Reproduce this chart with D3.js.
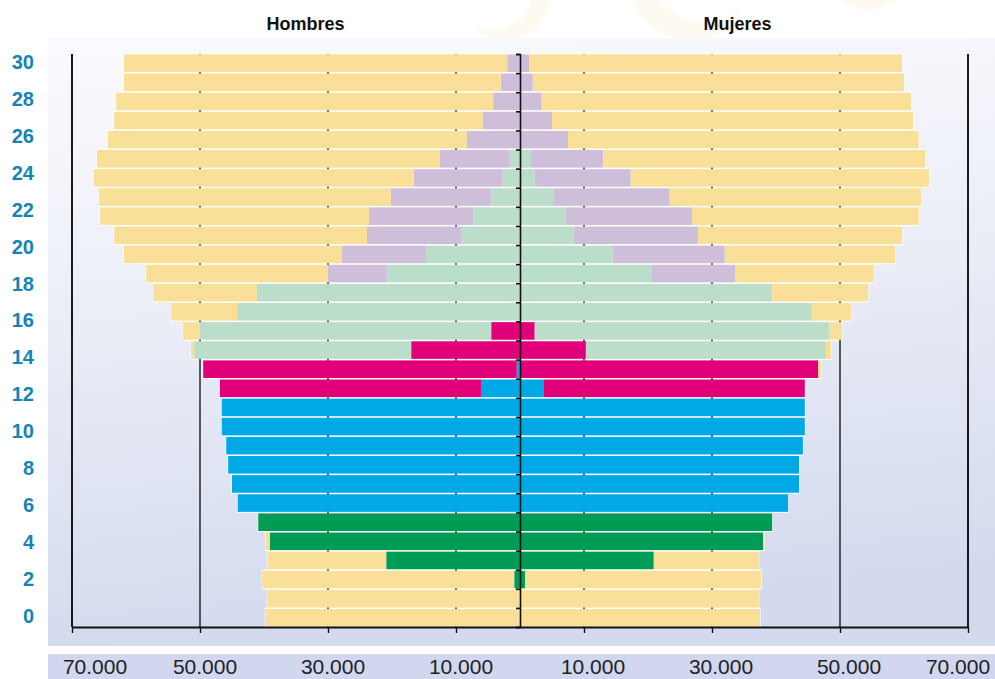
<!DOCTYPE html>
<html>
<head>
<meta charset="utf-8">
<script src="https://cdn.jsdelivr.net/npm/d3@7"></script>
<style>
  html, body { margin: 0; padding: 0; background: #ffffff; }
  svg { display: block; font-family: "Liberation Sans", Arial, sans-serif; }
</style>
</head>
<body>
<svg id="chart" width="995" height="679"></svg>
<script>
// ---------- DATA (persons) ----------
const ages = d3.range(0, 30);                       // one bar per age, bottom to top
const ageTickLabels = [0, 2, 4, 6, 8, 10, 12, 14, 16, 18, 20, 22, 24, 26, 28, 30];
const xTickValues = [70000, 50000, 30000, 10000];
const levels = ["infantil", "primaria", "eso", "post", "univ", "rest"];
const levelColors = ["#009B55", "#00A8E6", "#E2007A", "#BBDECA", "#CFBEDA", "#F9DF97"];
const sexTitles = ["Hombres", "Mujeres"];

// Hombres
const menTotal    = [39800,39500,40300,39500,39700,40900,44100,45000,45600,45900,46600,46600,46900,49500,51400,52700,54500,57300,58400,61900,63400,65600,65800,66600,66100,64400,63400,63100,61900,61900];
const menInfantil = [0,0,900,20900,39100,40900,0,0,0,0,0,0,0,0,0,0,0,0,0,0,0,0,0,0,0,0,0,0,0,0];
const menPrimaria = [0,0,0,0,0,0,44100,45000,45600,45900,46600,46600,6100,500,0,0,0,0,0,0,0,0,0,0,0,0,0,0,0,0];
const menEso      = [0,0,0,0,0,0,0,0,0,0,0,0,40800,49000,17000,4500,0,0,0,0,0,0,0,0,0,0,0,0,0,0];
const menPost     = [0,0,0,0,0,0,0,0,0,0,0,0,0,0,33900,45500,44200,41100,20800,14700,9100,7300,4500,2700,1600,0,0,0,0,0];
const menUniv     = [0,0,0,0,0,0,0,0,0,0,0,0,0,0,0,0,0,0,9200,13100,14800,16300,15700,13900,10900,8300,5800,4200,3000,2000];

// Mujeres
const womenTotal    = [37500,37300,37700,37300,38200,39400,41900,43600,43600,44200,44500,44500,44500,47000,48600,50300,51700,54400,55300,58600,59700,62300,62700,63900,63300,62300,61400,61100,60000,59700];
const womenInfantil = [0,0,800,20900,38000,39400,0,0,0,0,0,0,0,0,0,0,0,0,0,0,0,0,0,0,0,0,0,0,0,0];
const womenPrimaria = [0,0,0,0,0,0,41900,43600,43600,44200,44500,44500,3750,0,0,0,0,0,0,0,0,0,0,0,0,0,0,0,0,0];
const womenEso      = [0,0,0,0,0,0,0,0,0,0,0,0,40750,46600,10300,2300,0,0,0,0,0,0,0,0,0,0,0,0,0,0];
const womenPost     = [0,0,0,0,0,0,0,0,0,0,0,0,0,0,37500,46000,45600,39400,20500,14500,8400,7200,5200,2300,1700,0,0,0,0,0];
const womenUniv     = [0,0,0,0,0,0,0,0,0,0,0,0,0,0,0,0,0,0,13100,17500,19400,19700,18200,15000,11300,7500,5000,3400,2000,1400];

// ---------- LAYOUT ----------
const W = 995, H = 679;
const cx = 520, halfW = 448;
const plotTop = 54, plotBottom = 627;

const svg = d3.select("#chart");
const defs = svg.append("defs");

function buildRows(total, inf, pri, eso, post, univ) {
  return ages.map((a, i) => {
    const used = inf[i] + pri[i] + eso[i] + post[i] + univ[i];
    return { age: a, infantil: inf[i], primaria: pri[i], eso: eso[i], post: post[i], univ: univ[i],
             rest: Math.max(0, total[i] - used), total: total[i] };
  });
}
const menRows = buildRows(menTotal, menInfantil, menPrimaria, menEso, menPost, menUniv);
const womenRows = buildRows(womenTotal, womenInfantil, womenPrimaria, womenEso, womenPost, womenUniv);

// scales
const y = d3.scaleBand().domain(ages).range([plotBottom, plotTop]).paddingInner(0.08).paddingOuter(0.02);
const xMen = d3.scaleLinear().domain([0, 70000]).range([cx, cx - halfW]);
const xWomen = d3.scaleLinear().domain([0, 70000]).range([cx, cx + halfW]);
const xFull = d3.scaleLinear().domain([-70000, 70000]).range([cx - halfW, cx + halfW]);
const yLabel = d3.scaleLinear().domain([0, 30]).range([616, 62]);

// ---------- BACKGROUND ----------
// very faint decorative crescents at the top (watermark)
const deco = svg.append("g");
[[690, -22, 62, 706, -38, 60], [868, -30, 40, 880, -44, 40], [505, -5, 45, 490, -15, 45]].forEach(c => {
  const id = "m" + c[0];
  const m = defs.append("mask").attr("id", id);
  m.append("rect").attr("width", W).attr("height", H).attr("fill", "white");
  m.append("circle").attr("cx", c[3]).attr("cy", c[4]).attr("r", c[5]).attr("fill", "black");
  deco.append("circle").attr("cx", c[0]).attr("cy", c[1]).attr("r", c[2])
    .attr("fill", "#FDF3E0").attr("opacity", 0.4).attr("mask", `url(#${id})`);
});

const grad = defs.append("linearGradient").attr("id", "bgGrad").attr("x1", 0).attr("y1", 0).attr("x2", 0.15).attr("y2", 1);
grad.append("stop").attr("offset", "0%").attr("stop-color", "#FAFBFE");
grad.append("stop").attr("offset", "45%").attr("stop-color", "#ECEEF7");
grad.append("stop").attr("offset", "100%").attr("stop-color", "#D3DAEE");
svg.append("rect").attr("x", 48).attr("y", 38).attr("width", W - 48).attr("height", 646 - 38).attr("fill", "url(#bgGrad)");
svg.append("rect").attr("x", 48).attr("y", 654).attr("width", W - 48).attr("height", H - 654).attr("fill", "#D0D7EE");

// ---------- TITLES ----------
svg.selectAll("text.sex").data(sexTitles).join("text")
  .attr("class", "sex")
  .attr("x", (d, i) => i === 0 ? xMen(33500) : xWomen(34000))
  .attr("y", 30)
  .attr("text-anchor", "middle")
  .attr("font-size", 18).attr("font-weight", "bold").attr("fill", "#111")
  .text(d => d);

// ---------- BARS ----------
const stack = d3.stack().keys(levels);
const sides = [
  { rows: menRows, x: xMen },
  { rows: womenRows, x: xWomen }
];

// white outline under each bar (gaps between bars)
sides.forEach(s => {
  svg.append("g").selectAll("rect").data(s.rows).join("rect")
    .attr("x", d => Math.min(s.x(0), s.x(d.total)) - 0.5)
    .attr("width", d => Math.abs(s.x(d.total) - s.x(0)) + 1)
    .attr("y", d => y(d.age) - 1)
    .attr("height", y.bandwidth() + 2)
    .attr("fill", "#ffffff");
});

// gridlines
const gridVals = [-70000, -50000, -30000, -10000, 10000, 30000, 50000, 70000];
svg.append("g").selectAll("line").data(gridVals).join("line")
  .attr("x1", d => xFull(d)).attr("x2", d => xFull(d))
  .attr("y1", plotTop).attr("y2", plotBottom)
  .attr("stroke", "#1a1a1a")
  .attr("stroke-width", d => Math.abs(d) === 70000 ? 2 : 1.4);

// stacked segments
sides.forEach(s => {
  const series = stack(s.rows);
  svg.append("g").selectAll("g").data(series).join("g")
    .attr("fill", (d, i) => levelColors[i])
    .selectAll("rect").data(d => d.filter(p => p[1] - p[0] > 0)).join("rect")
      .attr("x", p => Math.min(s.x(p[0]), s.x(p[1])))
      .attr("width", p => Math.abs(s.x(p[1]) - s.x(p[0])))
      .attr("y", p => y(p.data.age))
      .attr("height", y.bandwidth());
});

// ---------- AXES ----------
// center axis with small ticks at bar boundaries
const centerAxis = d3.axisLeft(d3.scaleLinear().domain([0, ages.length]).range([plotBottom, plotTop]))
  .tickValues(d3.range(0, ages.length + 1)).tickSize(4).tickFormat("");
svg.append("g").attr("transform", `translate(${cx},0)`).call(centerAxis)
  .call(g => g.selectAll("path,line").attr("stroke", "#111").attr("stroke-width", 1.6));

// bottom axis line and ticks
const bottomAxis = d3.axisBottom(xFull).tickValues(gridVals.concat([0])).tickSize(6).tickSizeOuter(0).tickFormat("");
svg.append("g").attr("transform", `translate(0,${plotBottom})`).call(bottomAxis)
  .call(g => g.select("path").attr("stroke", "#111").attr("stroke-width", 2))
  .call(g => g.selectAll("line").attr("stroke", "#111").attr("stroke-width", 1.4))
  .call(g => g.selectAll(".tick").filter(d => d === 0).remove());

// age labels
const ageAxis = d3.axisLeft(yLabel).tickValues(ageTickLabels).tickSize(0).tickPadding(0);
svg.append("g").attr("transform", "translate(34,0)").call(ageAxis)
  .call(g => g.select(".domain").remove())
  .call(g => g.selectAll("text")
    .attr("font-size", 20).attr("font-weight", "bold").attr("fill", "#1384B5")
    .attr("font-family", "'Liberation Sans', Arial, sans-serif"));

// x value labels in the bottom band
const fmt = v => d3.format(",")(v).replace(/,/g, ".");
const xLabels = xTickValues.map(v => ({ v, side: -1 })).concat(xTickValues.slice().reverse().map(v => ({ v, side: 1 })));
svg.append("g").selectAll("text").data(xLabels).join("text")
  .attr("x", d => {
    const base = xFull(d.side * d.v);
    if (d.v === 70000) return base - d.side * (d.side < 0 ? 23 : 10);
    return base + (d.side < 0 ? 5 : 9);
  })
  .attr("y", 674)
  .attr("text-anchor", "middle")
  .attr("font-size", 21).attr("fill", "#222")
  .text(d => fmt(d.v));
</script>
</body>
</html>
